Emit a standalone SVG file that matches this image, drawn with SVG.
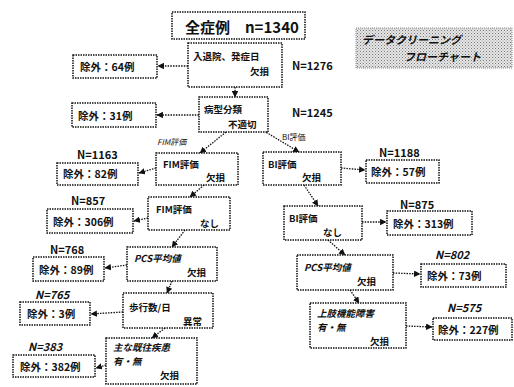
<svg xmlns="http://www.w3.org/2000/svg" width="514" height="387" viewBox="0 0 514 387">
<defs>
<style>
text{font-family:"Noto Sans CJK JP","Noto Sans",sans-serif;font-weight:bold;fill:#111}
.box{fill:#fff;stroke:#111;stroke-width:1.5;stroke-dasharray:1.5 1}
.t{font-size:9.5px}
.ex{font-size:10.5px}
.n{font-size:11px}
.it{font-style:italic}
.lbl{font-size:8px;font-weight:normal}
.con{fill:none;stroke:#111;stroke-width:1.3;stroke-dasharray:1.5 1.2}
</style>
<marker id="ah" viewBox="0 0 6 6" refX="5.5" refY="3" markerWidth="5" markerHeight="5" orient="auto">
<path d="M0,0 L6,3 L0,6 z" fill="#111"/>
</marker>
<pattern id="dots" width="3" height="3" patternUnits="userSpaceOnUse">
<rect width="3" height="3" fill="#e6e6e6"/>
<rect width="1" height="1" fill="#777"/>
<rect x="1.5" y="1.5" width="1" height="1" fill="#999"/>
</pattern>
</defs>
<rect width="514" height="387" fill="#fff"/>

<g id="title">
<rect x="356" y="28" width="156" height="40" fill="url(#dots)" stroke="#888" stroke-width="1" stroke-dasharray="1 1"/>
<text x="362" y="44" style="font-size:11px;font-style:italic">データクリーニング</text>
<text x="404" y="61" style="font-size:11px;font-style:italic">フローチャート</text>
</g>

<g id="connectors">
<path class="con" d="M188,66 L158,66" marker-end="url(#ah)"/>
<path class="con" d="M235,87 L235,97" marker-end="url(#ah)"/>
<path class="con" d="M199,115 L157,115" marker-end="url(#ah)"/>
<path class="con" d="M226,132 L200,153" marker-end="url(#ah)"/>
<path class="con" d="M264,131 L299,152" marker-end="url(#ah)"/>
<path class="con" d="M156,168 L139,173" marker-end="url(#ah)"/>
<path class="con" d="M204,185 L190,197" marker-end="url(#ah)"/>
<path class="con" d="M148,218 L134,221" marker-end="url(#ah)"/>
<path class="con" d="M185,230 L172,247" marker-end="url(#ah)"/>
<path class="con" d="M127,265 L105,268" marker-end="url(#ah)"/>
<path class="con" d="M172,281 L167,293" marker-end="url(#ah)"/>
<path class="con" d="M123,312 L91,314" marker-end="url(#ah)"/>
<path class="con" d="M165,328 L152,338" marker-end="url(#ah)"/>
<path class="con" d="M106,365 L96,368" marker-end="url(#ah)"/>
<path class="con" d="M341,168 L365,170" marker-end="url(#ah)"/>
<path class="con" d="M304,185 L318,206" marker-end="url(#ah)"/>
<path class="con" d="M362,222 L386,222" marker-end="url(#ah)"/>
<path class="con" d="M328,240 L345,255" marker-end="url(#ah)"/>
<path class="con" d="M393,273 L420,274" marker-end="url(#ah)"/>
<path class="con" d="M350,290 L359,303" marker-end="url(#ah)"/>
<path class="con" d="M406,326 L432,327" marker-end="url(#ah)"/>
</g>

<g id="all">
<rect class="box" x="172" y="12" width="133" height="27"/>
<text x="185" y="33" style="font-size:15px">全症例　n=1340</text>
</g>

<g id="n1">
<rect class="box" x="188" y="43" width="94" height="44"/>
<text class="t" x="193" y="60">入退院、発症日</text>
<text class="t" x="250" y="75">欠損</text>
</g>
<g id="ex1">
<rect class="box" x="73" y="55" width="84" height="23"/>
<text class="ex" x="80" y="71">除外：64例</text>
</g>
<text class="n" x="292" y="70">N=1276</text>

<g id="n2">
<rect class="box" x="199" y="97" width="69" height="35"/>
<text class="t" x="204" y="113">病型分類</text>
<text class="t" x="228" y="128">不適切</text>
</g>
<g id="ex2">
<rect class="box" x="72" y="103" width="84" height="24"/>
<text class="ex" x="78" y="120">除外：31例</text>
</g>
<text class="n" x="292" y="117">N=1245</text>

<text class="lbl it" x="157" y="145">FIM評価</text>
<text class="lbl" x="282" y="140">BI評価</text>

<g id="fim1">
<rect class="box" x="156" y="153" width="82" height="32"/>
<text class="t" x="163" y="168">FIM評価</text>
<text class="t" x="206" y="181">欠損</text>
</g>
<text class="n" x="77" y="159">N=1163</text>
<g id="ex3">
<rect class="box" x="57" y="163" width="81" height="22"/>
<text class="ex" x="63" y="178">除外：82例</text>
</g>

<g id="fim2">
<rect class="box" x="148" y="197" width="82" height="33"/>
<text class="t" x="156" y="213">FIM評価</text>
<text class="t" x="200" y="227">なし</text>
</g>
<text class="n" x="71" y="205">N=857</text>
<g id="ex4">
<rect class="box" x="47" y="209" width="86" height="24"/>
<text class="ex" x="53" y="226">除外：306例</text>
</g>

<g id="pcs1">
<rect class="box" x="127" y="247" width="90" height="34"/>
<text class="t it" x="134" y="262">PCS平均値</text>
<text class="t" x="187" y="276">欠損</text>
</g>
<text class="n" x="50" y="254">N=768</text>
<g id="ex5">
<rect class="box" x="33" y="257" width="71" height="24"/>
<text class="ex" x="39" y="274">除外：89例</text>
</g>

<g id="step">
<rect class="box" x="123" y="293" width="90" height="35"/>
<text class="t" x="129" y="311">歩行数/日</text>
<text class="t" x="183" y="325">異常</text>
</g>
<text class="n it" x="35" y="299">N=765</text>
<g id="ex6">
<rect class="box" x="20" y="302" width="70" height="23"/>
<text class="ex" x="27" y="318">除外：3例</text>
</g>

<g id="hist1">
<rect class="box" x="106" y="338" width="91" height="46"/>
<text class="t it" x="113" y="351">主な既往疾患</text>
<text class="t it" x="113" y="365">有・無</text>
<text class="t" x="160" y="379">欠損</text>
</g>
<text class="n it" x="28" y="351">N=383</text>
<g id="ex7">
<rect class="box" x="13" y="355" width="82" height="22"/>
<text class="ex" x="20" y="371">除外：382例</text>
</g>

<g id="bi1">
<rect class="box" x="263" y="152" width="78" height="33"/>
<text class="t" x="268" y="168">BI評価</text>
<text class="t" x="302" y="181">欠損</text>
</g>
<text class="n" x="379" y="157">N=1188</text>
<g id="ex8">
<rect class="box" x="366" y="160" width="73" height="23"/>
<text class="ex" x="371" y="176">除外：57例</text>
</g>

<g id="bi2">
<rect class="box" x="284" y="206" width="78" height="34"/>
<text class="t" x="289" y="222">BI評価</text>
<text class="t" x="323" y="236">なし</text>
</g>
<text class="n" x="400" y="209">N=875</text>
<g id="ex9">
<rect class="box" x="387" y="211" width="85" height="24"/>
<text class="ex" x="393" y="228">除外：313例</text>
</g>

<g id="pcs2">
<rect class="box" x="297" y="255" width="96" height="35"/>
<text class="t it" x="304" y="271">PCS平均値</text>
<text class="t" x="357" y="285">欠損</text>
</g>
<text class="n it" x="435" y="259">N=802</text>
<g id="ex10">
<rect class="box" x="421" y="264" width="85" height="23"/>
<text class="ex" x="427" y="280">除外：73例</text>
</g>

<g id="hist2">
<rect class="box" x="310" y="303" width="96" height="45"/>
<text class="t it" x="317" y="317">上肢機能障害</text>
<text class="t it" x="317" y="331">有・無</text>
<text class="t" x="370" y="345">欠損</text>
</g>
<text class="n it" x="447" y="312">N=575</text>
<g id="ex11">
<rect class="box" x="433" y="318" width="79" height="22"/>
<text class="ex" x="438" y="334">除外：227例</text>
</g>
</svg>
